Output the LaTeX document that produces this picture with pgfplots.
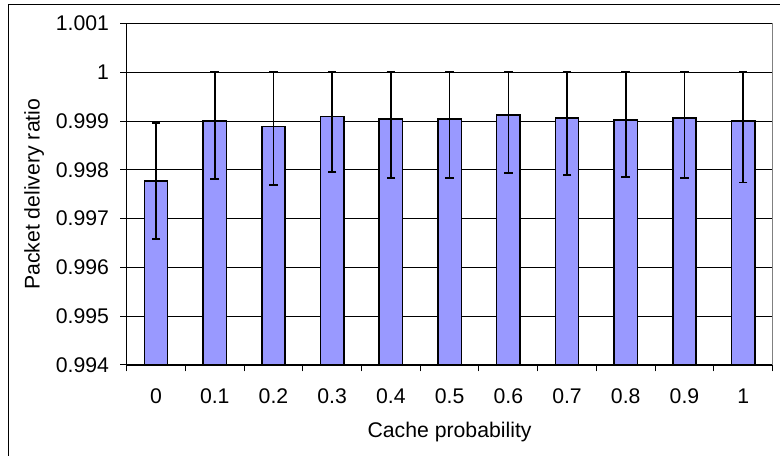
\documentclass[border=0pt]{standalone}
\usepackage{pgfplots}
\pgfplotsset{compat=1.18}
\usepackage{pgfplotstable}
\usepackage{fontspec}
\setmainfont{Liberation Sans}
\definecolor{barblue}{HTML}{9999FF}
\definecolor{bordergray}{HTML}{808080}

\pgfplotstableread{
x y ep em
0  0.99777 0.00119 0.00119
1  0.99900 0.00100 0.00119
2  0.99889 0.00111 0.00120
3  0.99909 0.00091 0.00113
4  0.99904 0.00096 0.00121
5  0.99904 0.00096 0.00121
6  0.99912 0.00088 0.00119
7  0.99906 0.00094 0.00116
8  0.99902 0.00098 0.00117
9  0.99906 0.00094 0.00122
10 0.99900 0.00100 0.00126
}\pdrdata

\begin{document}
\begin{tikzpicture}[x=1bp,y=1bp]
\useasboundingbox (0,0) rectangle (780,456);
\fill[white] (0,0) rectangle (780,456);
\draw[black, line width=1bp] (8.5,-5) -- (8.5,451) -- (790,451);
\begin{axis}[
  at={(126.7bp,91bp)}, anchor=south west,
  scale only axis,
  width=645.8bp, height=341.5bp,
  xmin=-0.5, xmax=10.5,
  ymin=0.994, ymax=1.001,
  axis x line*=bottom, axis y line*=left,
  axis line style={black, line width=1.1bp},
  tick align=outside,
  major tick length=6.5bp,
  tick style={black, line width=1bp},
  xtick={-0.5,0.5,1.5,2.5,3.5,4.5,5.5,6.5,7.5,8.5,9.5,10.5},
  xticklabels={},
  extra x ticks={0,1,2,3,4,5,6,7,8,9,10},
  extra x tick labels={0,0.1,0.2,0.3,0.4,0.5,0.6,0.7,0.8,0.9,1},
  extra x tick style={major tick length=0pt, grid=none},
  ytick={0.994,0.995,0.996,0.997,0.998,0.999,1,1.001},
  yticklabels={0.994,0.995,0.996,0.997,0.998,0.999,1,1.001},
  ymajorgrids,
  grid style={black, line width=0.9bp},
  ticklabel style={font=\fontsize{21.3}{23}\selectfont},
  xticklabel style={anchor=north, inner sep=0pt, yshift=-23.5bp},
  yticklabel style={anchor=east, inner sep=0pt, xshift=-11bp},
  xlabel={Cache probability},
  ylabel={Packet delivery ratio},
  label style={font=\fontsize{21.3}{23}\selectfont},
  xlabel style={at={(rel axis cs:0.5,0)}, anchor=north, inner sep=0pt, yshift=-56.5bp},
  ylabel style={at={(rel axis cs:-0.1435,0.5)}, anchor=center, inner sep=0pt},
]
\addplot[ybar, bar width=23.3bp, fill=barblue, draw=black, line width=1.5bp,
  error bars/.cd, y dir=both, y explicit,
  error bar style={black, line width=1.6bp},
  error mark options={rotate=90, mark size=4.3bp, line width=1.8bp, black}]
  table[x=x, y=y, y error plus=ep, y error minus=em] {\pdrdata};
\end{axis}
\draw[bordergray, line width=1.1bp] (772.5,91) -- (772.5,432.5);
\end{tikzpicture}
\end{document}
